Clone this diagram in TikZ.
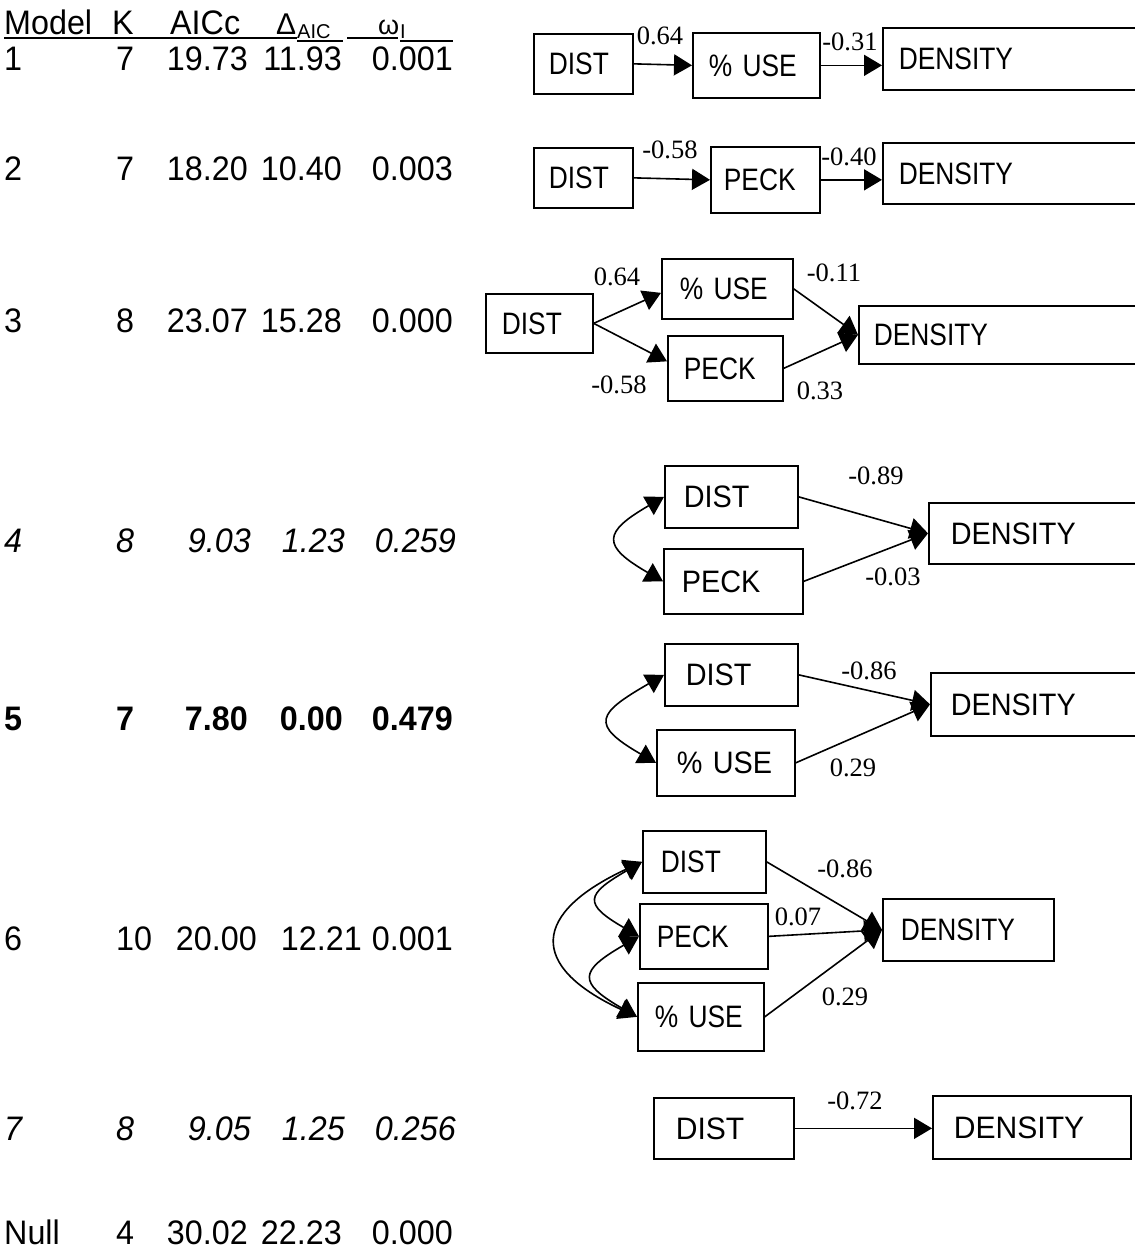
\documentclass[tikz,border=0pt]{standalone}
\usepackage{fontspec}
\setmainfont{Liberation Sans}[FakeStretch=0.95]
\newfontfamily\plainsans{Liberation Sans}
\newfontfamily\lblfont{Liberation Serif}
\newfontfamily\boxfontA{Liberation Sans}[FakeStretch=0.85]
\newfontfamily\boxfontB{Liberation Sans}[FakeStretch=0.93]
\newfontfamily\boxfontC{Liberation Sans}[FakeStretch=0.97]
\usetikzlibrary{arrows.meta}
\tikzset{
  tc/.style={inner sep=0pt, font=\fontsize{34pt}{40pt}\selectfont},
  tcs/.style={inner sep=0pt, font=\plainsans\fontsize{20pt}{24pt}\selectfont},
  bx/.style={draw, line width=1.7pt, anchor=north west, inner ysep=0pt, align=left,
    font=\boxfontA\fontsize{31pt}{36pt}\selectfont},
  fB/.style={font=\boxfontB\fontsize{31pt}{36pt}\selectfont},
  fC/.style={font=\boxfontC\fontsize{31pt}{36pt}\selectfont},
  lb/.style={inner sep=0pt, font=\lblfont\fontsize{26.5pt}{30pt}\selectfont},
  ar/.style={line width=1.6pt, -{Triangle[length=18pt,width=21pt]}},
  dar/.style={line width=1.6pt, {Triangle[length=18pt,width=21pt]}-{Triangle[length=18pt,width=21pt]}},
  ul/.style={line width=2pt}
}
\newcommand\mkbox[8][]{\node[bx, #1, text width=#5pt, inner xsep=#7pt, minimum height=#6pt] (#2) at (#3,#4) {\mbox{#8}};}
\begin{document}
\begin{tikzpicture}[x=1pt,y=-1pt]
\useasboundingbox[fill=white] (0,0) rectangle (1135,1253);

% ---------- table header ----------
\node[tc,anchor=base west] (hmod) at (4,34) {Model};
\node[tc,anchor=base west] (hk) at (112,34) {K};
\node[tc,anchor=base west] (haic) at (170,34) {AICc};
\node[tc,anchor=base west] (hdel) at (276,34) {\plainsans\fontsize{30pt}{36pt}\selectfont Δ};
\node[tcs,anchor=base west] (hdsub) at (297,38) {AIC};
\node[tc,anchor=base west] (hom) at (378,34) {\plainsans\fontsize{27pt}{32pt}\selectfont ω};
\node[tcs,anchor=base west] (hosub) at (400,38) {I};
\draw[ul] (4,38) -- (297,38);
\draw[ul] (297,41) -- (343,41);
\draw[ul] (347,38) -- (398,38);
\draw[ul] (400,41) -- (453,41);

% ---------- table rows ----------
\node[tc,anchor=base west] (r1a) at (4,70) {1};
\node[tc,anchor=base west] (r1b) at (116,70) {7};
\node[tc,anchor=base east] (r1c) at (248,70) {19.73};
\node[tc,anchor=base east] (r1d) at (342,70) {11.93};
\node[tc,anchor=base east] (r1e) at (453,70) {0.001};

\node[tc,anchor=base west] (r2a) at (4,180) {2};
\node[tc,anchor=base west] (r2b) at (116,180) {7};
\node[tc,anchor=base east] (r2c) at (248,180) {18.20};
\node[tc,anchor=base east] (r2d) at (342,180) {10.40};
\node[tc,anchor=base east] (r2e) at (453,180) {0.003};

\node[tc,anchor=base west] (r3a) at (4,332) {3};
\node[tc,anchor=base west] (r3b) at (116,332) {8};
\node[tc,anchor=base east] (r3c) at (248,332) {23.07};
\node[tc,anchor=base east] (r3d) at (342,332) {15.28};
\node[tc,anchor=base east] (r3e) at (453,332) {0.000};

\node[tc,anchor=base west] (r4a) at (4,552) {\itshape 4};
\node[tc,anchor=base west] (r4b) at (116,552) {\itshape 8};
\node[tc,anchor=base east] (r4c) at (251,552) {\itshape 9.03};
\node[tc,anchor=base east] (r4d) at (345,552) {\itshape 1.23};
\node[tc,anchor=base east] (r4e) at (456,552) {\itshape 0.259};

\node[tc,anchor=base west] (r5a) at (4,730) {\bfseries 5};
\node[tc,anchor=base west] (r5b) at (116,730) {\bfseries 7};
\node[tc,anchor=base east] (r5c) at (248,730) {\bfseries 7.80};
\node[tc,anchor=base east] (r5d) at (343,730) {\bfseries 0.00};
\node[tc,anchor=base east] (r5e) at (453,730) {\bfseries 0.479};

\node[tc,anchor=base west] (r6a) at (4,950) {6};
\node[tc,anchor=base west] (r6b) at (116,950) {10};
\node[tc,anchor=base east] (r6c) at (257,950) {20.00};
\node[tc,anchor=base east] (r6d) at (362,950) {12.21};
\node[tc,anchor=base east] (r6e) at (453,950) {0.001};

\node[tc,anchor=base west] (r7a) at (4,1140) {\itshape 7};
\node[tc,anchor=base west] (r7b) at (116,1140) {\itshape 8};
\node[tc,anchor=base east] (r7c) at (251,1140) {\itshape 9.05};
\node[tc,anchor=base east] (r7d) at (345,1140) {\itshape 1.25};
\node[tc,anchor=base east] (r7e) at (456,1140) {\itshape 0.256};

\node[tc,anchor=base west] (r8a) at (4,1244) {Null};
\node[tc,anchor=base west] (r8b) at (116,1244) {4};
\node[tc,anchor=base east] (r8c) at (248,1244) {30.02};
\node[tc,anchor=base east] (r8d) at (342,1244) {22.23};
\node[tc,anchor=base east] (r8e) at (453,1244) {0.000};

% ---------- model 1 ----------
\mkbox{d1}{533}{33}{69}{60}{15}{DIST}
\mkbox{u1}{692}{32}{95}{65}{16}{\% USE}
\mkbox{n1}{882}{27}{222}{62}{16}{DENSITY}
\draw[ar] (d1.east) -- (u1.west);
\draw[ar] (u1.east) -- (u1.east -| n1.west);
\node[lb] (l1a) at (660,36) {0.64};
\node[lb] (l1b) at (850,42) {-0.31};

% ---------- model 2 ----------
\mkbox{d2}{533}{147}{69}{60}{15}{DIST}
\mkbox{p2}{710}{146}{83}{66}{13}{PECK}
\mkbox{n2}{882}{142}{222}{61}{16}{DENSITY}
\draw[ar] (d2.east) -- (p2.west);
\draw[ar] (p2.east) -- (p2.east -| n2.west);
\node[lb] (l2a) at (670,150) {-0.58};
\node[lb] (l2b) at (849,157) {-0.40};

% ---------- model 3 ----------
\mkbox{d3}{485}{293}{75}{59}{16}{DIST}
\mkbox{u3}{661}{258}{95}{60}{18}{\% USE}
\mkbox{p3}{667}{335}{83}{65}{16}{PECK}
\mkbox{n3}{858}{305}{248}{58}{15}{DENSITY}
\draw[ar] (d3.east) -- ([yshift=-4pt]u3.west);
\draw[ar] (d3.east) -- ([yshift=7pt]p3.west);
\draw[ar] (u3.east) -- (n3.west);
\draw[ar] (p3.east) -- (n3.west);
\node[lb] (l3a) at (617,277) {0.64};
\node[lb] (l3b) at (834,273) {-0.11};
\node[lb] (l3c) at (619,385) {-0.58};
\node[lb] (l3d) at (820,391) {0.33};

% ---------- model 4 ----------
\mkbox[fB]{d4}{664}{465}{95}{62}{19}{DIST}
\mkbox[fB]{p4}{663}{548}{103}{65}{18}{PECK}
\mkbox[fB]{n4}{928}{502}{164}{61}{22}{DENSITY}
\draw[ar] (d4.east) -- (n4.west);
\draw[ar] (p4.east) -- (n4.west);
\draw[dar] (d4.west) .. controls +(210:71pt) and +(150:71pt) .. (p4.west);
\node[lb] (l4a) at (876,476) {-0.89};
\node[lb] (l4b) at (893,577) {-0.03};

% ---------- model 5 ----------
\mkbox[fB]{d5}{664}{643}{91}{62}{21}{DIST}
\mkbox[fB]{u5}{656}{729}{98}{66}{20}{\% USE}
\mkbox[fB]{n5}{930}{672}{166}{63}{20}{DENSITY}
\draw[ar] (d5.east) -- (n5.west);
\draw[ar] (u5.east) -- (n5.west);
\draw[dar] (d5.west) .. controls +(210:77pt) and +(150:77pt) .. (u5.west);
\node[lb] (l5a) at (869,671) {-0.86};
\node[lb] (l5b) at (853,768) {0.29};

% ---------- model 6 ----------
\mkbox{d6}{642}{830}{87}{62}{18}{DIST}
\mkbox{p6}{639}{903}{94}{65}{17}{PECK}
\mkbox{u6}{637}{982}{92}{68}{17}{\% USE}
\mkbox{n6}{882}{898}{135}{62}{18}{DENSITY}
\draw[ar] (d6.east) -- (n6.west);
\draw[ar] (p6.east) -- (n6.west);
\draw[ar] (u6.east) -- (n6.west);
\draw[dar] (d6.west) .. controls +(210:65pt) and +(150:65pt) .. (p6.west);
\draw[dar] (p6.west) .. controls +(210:69pt) and +(150:69pt) .. (u6.west);
\draw[dar] (d6.west) .. controls +(205:121pt) and +(155:121pt) .. (u6.west);
\node[lb] (l6a) at (845,869) {-0.86};
\node[lb] (l6b) at (798,917) {0.07};
\node[lb] (l6c) at (845,997) {0.29};

% ---------- model 7 ----------
\mkbox[fC]{d7}{653}{1097}{96}{61}{22}{DIST}
\mkbox[fC]{n7}{932}{1095}{156}{63}{21}{DENSITY}
\draw[ar] (d7.east) -- (d7.east -| n7.west);
\node[lb] (l7a) at (855,1101) {-0.72};
\end{tikzpicture}
\end{document}
